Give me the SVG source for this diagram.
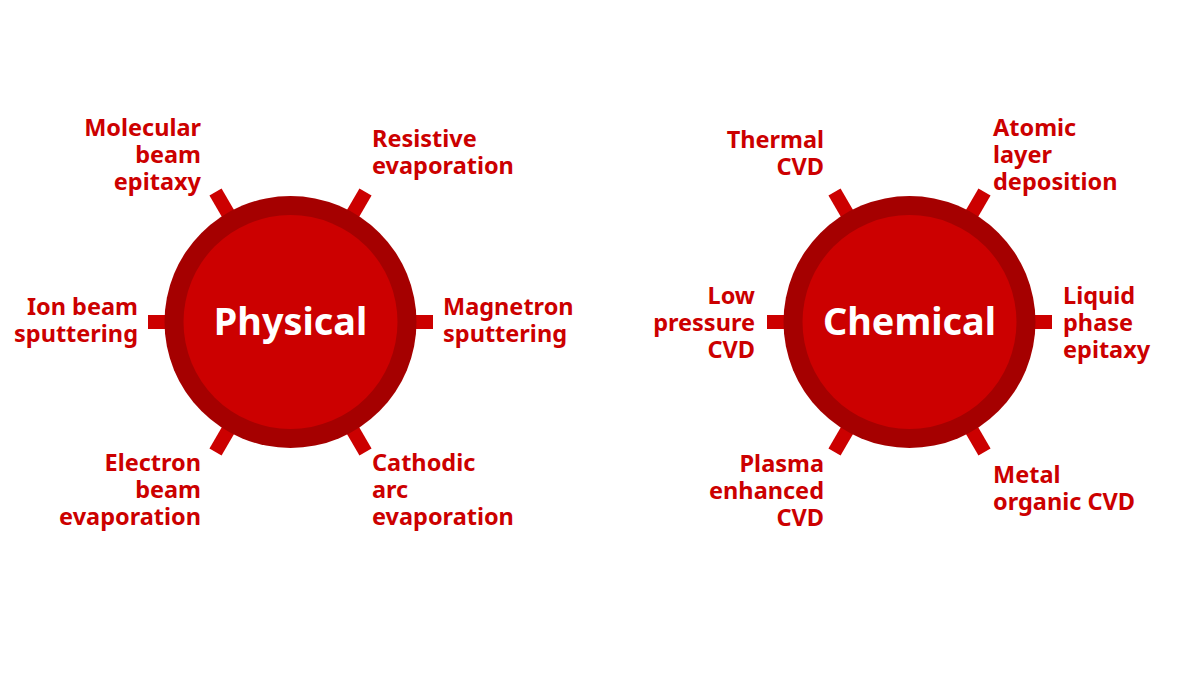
<svg xmlns="http://www.w3.org/2000/svg" width="1200" height="675" viewBox="0 0 1200 675">
<style>
.ring{fill:#a50000}
.core{fill:#cc0000}
.spoke{stroke:#cc0000;stroke-width:14;fill:none}
.lbl{font-family:"Noto Sans","Open Sans","Liberation Sans",sans-serif;font-weight:700;font-size:23.5px;fill:#cc0000}
.r{text-anchor:end}
.title{font-family:"Noto Sans","Open Sans","Liberation Sans",sans-serif;font-weight:700;font-size:37.8px;fill:#ffffff;text-anchor:middle}
</style>
<rect width="1200" height="675" fill="#ffffff"/>
<g id="connectors">
  <line class="spoke" x1="190" y1="322" x2="148" y2="322"/>
  <line class="spoke" x1="391" y1="322" x2="433" y2="322"/>
  <line class="spoke" x1="240.5" y1="235" x2="215.5" y2="192"/>
  <line class="spoke" x1="340.5" y1="235" x2="365.5" y2="192"/>
  <line class="spoke" x1="240.5" y1="409" x2="215.5" y2="452"/>
  <line class="spoke" x1="340.5" y1="409" x2="365.5" y2="452"/>
  <line class="spoke" x1="809" y1="322" x2="767" y2="322"/>
  <line class="spoke" x1="1010" y1="322" x2="1052" y2="322"/>
  <line class="spoke" x1="859.5" y1="235" x2="834.5" y2="192"/>
  <line class="spoke" x1="959.5" y1="235" x2="984.5" y2="192"/>
  <line class="spoke" x1="859.5" y1="409" x2="834.5" y2="452"/>
  <line class="spoke" x1="959.5" y1="409" x2="984.5" y2="452"/>
</g>
<g id="physical">
  <circle class="ring" cx="290.5" cy="322" r="126"/>
  <circle class="core" cx="290.5" cy="322" r="107"/>
  <text class="title" x="290.5" y="335">Physical</text>
</g>
<g id="chemical">
  <circle class="ring" cx="909.5" cy="322" r="126"/>
  <circle class="core" cx="909.5" cy="322" r="107"/>
  <text class="title" x="909.5" y="335">Chemical</text>
</g>
<g id="molecular-beam-epitaxy"><text class="lbl r" x="201" y="136">Molecular<tspan x="201" y="163">beam</tspan><tspan x="201" y="190">epitaxy</tspan></text></g>
<g id="ion-beam-sputtering"><text class="lbl r" x="138" y="315">Ion beam<tspan x="138" y="342">sputtering</tspan></text></g>
<g id="electron-beam-evaporation"><text class="lbl r" x="201" y="471">Electron<tspan x="201" y="498">beam</tspan><tspan x="201" y="525">evaporation</tspan></text></g>
<g id="resistive-evaporation"><text class="lbl" x="372" y="147">Resistive<tspan x="372" y="174">evaporation</tspan></text></g>
<g id="magnetron-sputtering"><text class="lbl" x="443" y="315">Magnetron<tspan x="443" y="342">sputtering</tspan></text></g>
<g id="cathodic-arc-evaporation"><text class="lbl" x="372" y="471">Cathodic<tspan x="372" y="498">arc</tspan><tspan x="372" y="525">evaporation</tspan></text></g>
<g id="thermal-cvd"><text class="lbl r" x="824" y="148">Thermal<tspan x="824" y="175">CVD</tspan></text></g>
<g id="low-pressure-cvd"><text class="lbl r" x="755" y="304">Low<tspan x="755" y="331">pressure</tspan><tspan x="755" y="358">CVD</tspan></text></g>
<g id="plasma-enhanced-cvd"><text class="lbl r" x="824" y="472">Plasma<tspan x="824" y="499">enhanced</tspan><tspan x="824" y="526">CVD</tspan></text></g>
<g id="atomic-layer-deposition"><text class="lbl" x="993" y="136">Atomic<tspan x="993" y="163">layer</tspan><tspan x="993" y="190">deposition</tspan></text></g>
<g id="liquid-phase-epitaxy"><text class="lbl" x="1063" y="304">Liquid<tspan x="1063" y="331">phase</tspan><tspan x="1063" y="358">epitaxy</tspan></text></g>
<g id="metal-organic-cvd"><text class="lbl" x="993" y="483">Metal<tspan x="993" y="510">organic CVD</tspan></text></g>
</svg>
